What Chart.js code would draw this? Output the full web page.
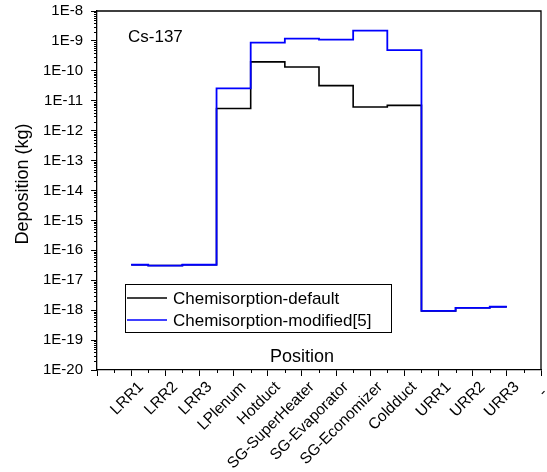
<!DOCTYPE html>
<html>
<head>
<meta charset="utf-8">
<script src="https://cdn.jsdelivr.net/npm/chart.js@4"></script>
<style>
  html, body { margin: 0; padding: 0; background: #fff; }
  #wrap { width: 547px; height: 472px; position: relative; }
</style>
</head>
<body>
<div id="wrap"><canvas id="depChart"></canvas></div>
<script>
const positions = ['LRR1', 'LRR2', 'LRR3', 'LPlenum', 'Hotduct', 'SG-SuperHeater', 'SG-Evaporator', 'SG-Economizer', 'Coldduct', 'URR1', 'URR2', 'URR3'];
const tickLabels = ['', 'LRR1', 'LRR2', 'LRR3', 'LPlenum', 'Hotduct', 'SG-SuperHeater', 'SG-Evaporator', 'SG-Economizer', 'Coldduct', 'URR1', 'URR2', 'URR3', '-  '];
const defaultVals = [3.3e-17, 3.1e-17, 3.3e-17, 5.5e-12, 2.0e-10, 1.35e-10, 3.2e-11, 6.2e-12, 7.0e-12, 9.5e-19, 1.2e-18, 1.3e-18];
const modifiedVals = [3.3e-17, 3.1e-17, 3.3e-17, 2.6e-11, 8.8e-10, 1.2e-9, 1.1e-9, 2.2e-9, 4.9e-10, 9.5e-19, 1.2e-18, 1.3e-18];
const yExponents = [-20, -19, -18, -17, -16, -15, -14, -13, -12, -11, -10, -9, -8];

const FONT = '"Liberation Sans", Arial, sans-serif';

function toPoints(vals) {
    return vals.map((v, i) => ({ x: i + 1, y: v }));
}

// frame, minor ticks, titles and the legend box
const extras = {
    id: 'extras',
    afterDraw(chart) {
        const ctx = chart.ctx;
        const area = chart.chartArea;
        const x = chart.scales.x;
        const y = chart.scales.y;
        ctx.save();
        ctx.strokeStyle = '#000';
        ctx.lineWidth = 1.3;

        // top and right frame
        ctx.beginPath();
        ctx.moveTo(area.left, area.top);
        ctx.lineTo(area.right, area.top);
        ctx.lineTo(area.right, area.bottom);
        ctx.stroke();

        // minor ticks
        ctx.lineWidth = 1;
        ctx.beginPath();
        for (let k = 0; k < 13; k++) {
            const px = Math.round(x.getPixelForValue(k + 0.5)) + 0.5;
            ctx.moveTo(px, area.bottom);
            ctx.lineTo(px, area.bottom + 3);
        }
        for (let e = -20; e < -8; e++) {
            for (let m = 2; m <= 9; m++) {
                const py = Math.round(y.getPixelForValue(m * Math.pow(10, e))) + 0.5;
                ctx.moveTo(area.left - 3, py);
                ctx.lineTo(area.left, py);
            }
        }
        ctx.stroke();

        // texts
        ctx.fillStyle = '#000';
        ctx.textBaseline = 'alphabetic';
        ctx.font = '17px ' + FONT;
        ctx.textAlign = 'left';
        ctx.fillText('Cs-137', 128, 42);

        ctx.font = '18px ' + FONT;
        ctx.textAlign = 'center';
        ctx.fillText('Position', 302, 362);

        ctx.save();
        ctx.translate(28, 184);
        ctx.rotate(-Math.PI / 2);
        ctx.fillText('Deposition (kg)', 0, 0);
        ctx.restore();

        // legend
        ctx.font = '17px ' + FONT;
        ctx.lineWidth = 1;
        ctx.strokeRect(125.5, 284.5, 266, 48);
        ctx.lineWidth = 1.6;
        ctx.strokeStyle = '#000';
        ctx.beginPath();
        ctx.moveTo(127, 298);
        ctx.lineTo(167, 298);
        ctx.stroke();
        ctx.strokeStyle = '#0000ff';
        ctx.beginPath();
        ctx.moveTo(127, 320);
        ctx.lineTo(167, 320);
        ctx.stroke();
        ctx.textAlign = 'left';
        ctx.fillText('Chemisorption-default', 173, 304);
        ctx.fillText('Chemisorption-modified[5]', 173, 326);
        ctx.restore();
    }
};

new Chart(document.getElementById('depChart'), {
    type: 'line',
    data: {
        datasets: [
            { label: 'Chemisorption-modified[5]', data: toPoints(modifiedVals), borderColor: '#0000ff', borderWidth: 1.8, stepped: 'middle', pointRadius: 0, fill: false, order: 0 },
            { label: 'Chemisorption-default', data: toPoints(defaultVals), borderColor: '#000000', borderWidth: 1.6, stepped: 'middle', pointRadius: 0, fill: false, order: 1 }
        ]
    },
    options: {
        responsive: true,
        maintainAspectRatio: false,
        devicePixelRatio: 1,
        animation: false,
        layout: { padding: { top: 11, right: 6, left: 0, bottom: 0 } },
        plugins: { legend: { display: false }, tooltip: { enabled: false } },
        scales: {
            x: {
                type: 'linear',
                min: 0,
                max: 13,
                afterBuildTicks: (scale) => {
                    scale.ticks = tickLabels.map((_, i) => ({ value: i }));
                },
                afterFit: (scale) => {
                    scale.height = 102;
                    scale.paddingLeft = 0;
                    scale.paddingRight = 0;
                },
                ticks: {
                    autoSkip: false,
                    minRotation: 45,
                    maxRotation: 45,
                    labelOffset: 10,
                    padding: 2,
                    color: '#000',
                    font: { family: FONT, size: 15.5 },
                    callback: (v) => tickLabels[v] || ''
                },
                grid: { drawOnChartArea: false, tickLength: 6, tickColor: '#000', tickWidth: 1 },
                border: { color: '#000', width: 1.3 }
            },
            y: {
                type: 'logarithmic',
                min: 1e-20,
                max: 1e-8,
                afterBuildTicks: (scale) => {
                    scale.ticks = yExponents.map(e => ({ value: Math.pow(10, e) }));
                },
                afterFit: (scale) => {
                    scale.width = 97;
                    scale.paddingTop = 0;
                    scale.paddingBottom = 0;
                },
                ticks: {
                    padding: 8,
                    color: '#000',
                    font: { family: FONT, size: 15 },
                    callback: (v) => '1E' + Math.round(Math.log10(v))
                },
                grid: { drawOnChartArea: false, tickLength: 6, tickColor: '#000', tickWidth: 1 },
                border: { color: '#000', width: 1.3 }
            }
        }
    },
    plugins: [extras]
});
</script>
</body>
</html>
